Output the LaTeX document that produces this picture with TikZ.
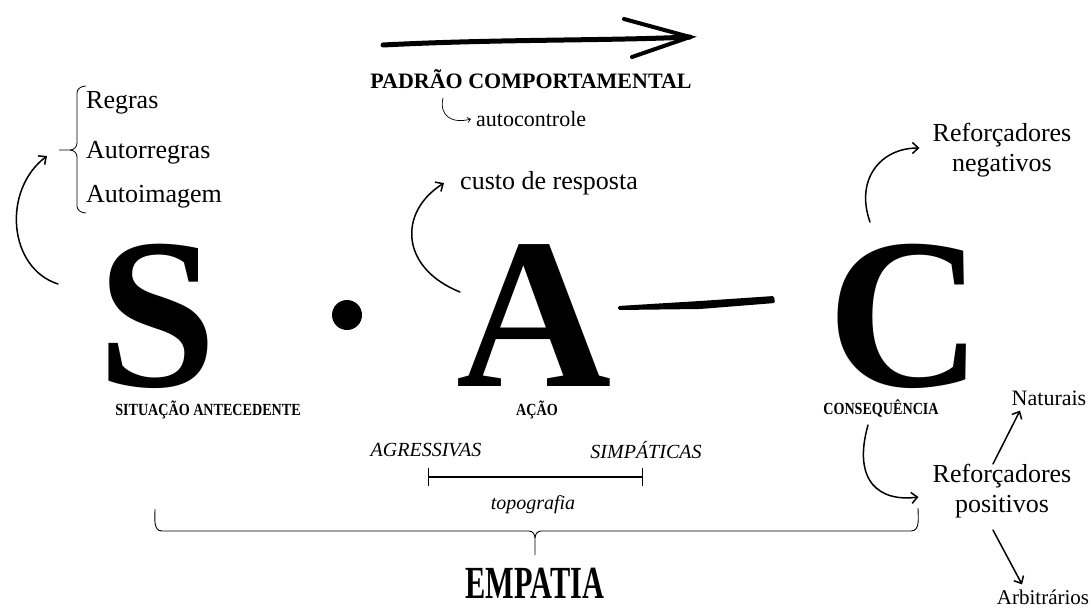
\documentclass[tikz,border=0pt]{standalone}
\usepackage{fontspec}
\setmainfont{Liberation Serif}
\usetikzlibrary{arrows.meta,positioning}

\tikzset{
  hand/.style={line width=1.5pt, line cap=round, -{Straight Barb[length=6pt,width=11pt,line width=1.5pt]}},
  thinhand/.style={line width=0.7pt, line cap=round, -{Straight Barb[length=3pt,width=5pt]}},
  brush/.style={line width=5pt, line cap=round},
  bigletter/.style={font=\fontsize{215}{215}\selectfont\bfseries, inner sep=0pt, text depth=0pt},
  caplabel/.style={font=\fontsize{17}{17}\selectfont\bfseries, inner sep=0pt, xscale=0.83},
  item/.style={font=\fontsize{26}{30}\selectfont, inner sep=0pt},
  smallitem/.style={font=\fontsize{22}{22}\selectfont, inner sep=0pt},
  slant/.style={font=\fontsize{20}{20}\selectfont\itshape, inner sep=0pt},
}

\begin{document}
\begin{tikzpicture}[x=1pt,y=-1pt]
\useasboundingbox (0,0) rectangle (1089,610);

% big letters S . A - C
\node[bigletter, anchor=base] (S) at (157,386) {S};
\node[bigletter, anchor=base] (A) at (534,386) {A};
\node[bigletter, anchor=base] (C) at (905,386) {C};
\node[circle, fill, minimum size=30pt, inner sep=0pt] (dot) at (347,315) {};

% labels under the letters
\node[caplabel] (sit) at (208,410) {SITUAÇÃO ANTECEDENTE};
\node[caplabel] (acao) at (537,410) {AÇÃO};
\node[caplabel] (cons) at (881,408) {CONSEQUÊNCIA};

% top brush arrow
\coordinate (pl) at (383,45);
\coordinate (pr) at (690,37);
\draw[brush] (pl) .. controls (500,39) and (600,41) .. (pr);
\draw[brush, line width=4pt] (624,19) -- (pr) -- (632,57);
\node[font=\fontsize{22}{22}\selectfont\bfseries, inner sep=0pt] (padrao) at (531,79) {PADRÃO COMPORTAMENTAL};
\node[smallitem, anchor=west] (auto) at (476,119) {autocontrole};
\coordinate (hk) at (443,98);
\draw[thinhand] (hk) .. controls (439,116) and (452,124) .. ([xshift=-5pt]auto.west);

% bracket with rules
\node[item, anchor=west] (regras) at (86,103) {Regras};
\node[item, anchor=west] (autorr) at (86,153) {Autorregras};
\node[item, anchor=west] (autoim) at (86,197) {Autoimagem};
\coordinate (tick) at (59,150);
\draw[line width=0.8pt] (86,86) to[out=180,in=90] (77,93) -- (77,143)
  to[out=-90,in=0] (70,150) -- (tick);
\draw[line width=0.8pt] (70,150) to[out=0,in=90] (77,157) -- (77,206)
  to[out=-90,in=180] (86,213);
\coordinate (sl) at (58,284);
\draw[hand] (sl) .. controls (8,268) and (2,190) .. ([shift={(-12pt,-6pt)}]tick);

% cost of response
\node[item, anchor=west] (custo) at (460,183) {custo de resposta};
\coordinate (al) at (460,292);
\draw[hand] (al) .. controls (400,268) and (398,212) .. ([xshift=-16pt]custo.west);

% brush dash between A and C
\coordinate (d1) at (618,306);
\coordinate (d2) at (774,296);
\fill[rounded corners=1.5pt] (d1) -- (700,301) -- (d2) -- (775,303) -- (700,309) -- (618,310) -- cycle;

% negative reinforcers
\node[item, align=center] (neg) at (1002,150) {Reforçadores\\negativos};
\coordinate (cn) at (870,222);
\draw[hand] (cn) .. controls (855,180) and (880,148) .. ([xshift=-13pt,yshift=2pt]neg.west);

% positive reinforcers
\node[item, align=center] (pos) at (1002,491) {Reforçadores\\positivos};
\node[smallitem] (nat) at (1049,398) {Naturais};
\node[font=\fontsize{21}{21}\selectfont, inner sep=0pt] (arb) at (1043,597) {Arbitrários};
\coordinate (cs) at (868,425);
\draw[hand] (cs) .. controls (852,482) and (880,502) .. ([xshift=-14pt,yshift=-6pt]pos.west);
\draw[hand] ([xshift=-9pt]pos.north) -- ([xshift=-29pt,yshift=-5pt]nat.south);
\draw[hand] ([xshift=-9pt,yshift=-12pt]pos.south) -- ([xshift=-21pt,yshift=5pt]arb.north);

% topography
\node[slant] (agr) at (426,450) {AGRESSIVAS};
\node[slant] (simp) at (646,450) {SIMPÁTICAS};
\coordinate (tl) at (428,477);
\coordinate (tr) at (642,477);
\draw[line width=0.8pt] ([yshift=9pt]tl) -- ([yshift=-9pt]tl);
\draw[line width=0.8pt] ([yshift=9pt]tr) -- ([yshift=-9pt]tr);
\draw[line width=1.3pt] (tl) -- (tr);
\node[slant] (topo) at (533,505) {topografia};

% empathy brace
\draw[line width=0.9pt] (155,509) to[out=-90,in=180] (162,531) -- (529,531)
  to[out=0,in=90] (535,538) -- (535,555);
\draw[line width=0.9pt] (535,538) to[out=90,in=180] (541,531) -- (911,531)
  to[out=0,in=-90] (918,508);
\node[font=\fontsize{46}{46}\selectfont\bfseries, inner sep=0pt, xscale=0.66] (emp) at (535,583) {EMPATIA};

\end{tikzpicture}
\end{document}
